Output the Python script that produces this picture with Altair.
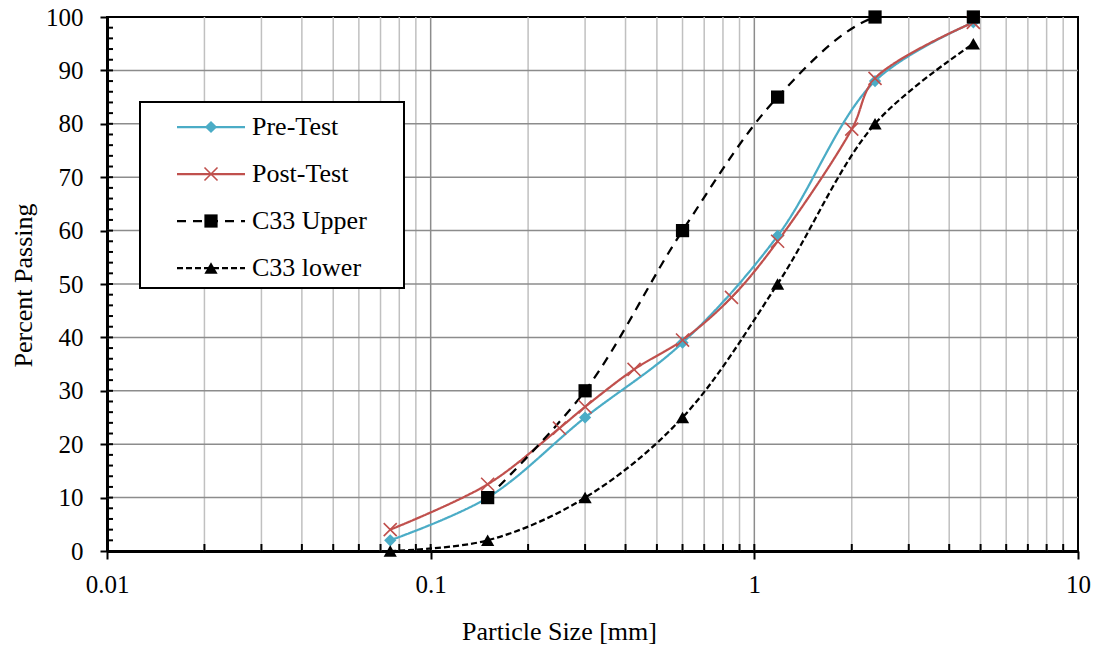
import altair as alt
import pandas as pd

# ---------------- data ----------------
series_names = ["Pre-Test", "Post-Test", "C33 Upper", "C33 lower"]

pre_x = [0.075, 0.15, 0.3, 0.6, 1.18, 2.36, 4.75]
pre_y = [2, 10, 25, 39, 59, 88, 99]

post_x = [0.075, 0.15, 0.25, 0.3, 0.425, 0.6, 0.85, 1.18, 2.0, 2.36, 4.75]
post_y = [4, 12.5, 23, 27, 34, 39.5, 47.5, 58, 79, 88.5, 99]

upper_x = [0.15, 0.3, 0.6, 1.18, 2.36, 4.75]
upper_y = [10, 30, 60, 85, 100, 100]

lower_x = [0.075, 0.15, 0.3, 0.6, 1.18, 2.36, 4.75]
lower_y = [0, 2, 10, 25, 50, 80, 95]

x_tick_labels = [0.01, 0.1, 1, 10]
y_tick_labels = list(range(0, 101, 10))

minor_x = [round(m * 10 ** e, 6) for e in (-2, -1, 0) for m in range(2, 10)]
major_x = [0.1, 1]
grid_y = list(range(10, 100, 10))
inner_tick_x = minor_x + x_tick_labels
inner_tick_y = list(range(0, 101, 2))

# ---------------- style ----------------
FONT = "Liberation Serif"
W, H = 971, 534
colors = {"Pre-Test": "#4BACC6", "Post-Test": "#C0504D",
          "C33 Upper": "#000000", "C33 lower": "#000000"}
dashes = {"Pre-Test": [1, 0], "Post-Test": [1, 0],
          "C33 Upper": [9, 7], "C33 lower": [6, 3]}
X_PATH = "M-1,-1L1,1M-1,1L1,-1"

x_scale = alt.Scale(type="log", domain=[0.01, 10], nice=False)
y_scale = alt.Scale(domain=[0, 100], nice=False, zero=False)

x_axis = alt.Axis(values=x_tick_labels, format="~g", grid=False,
                  domainColor="black", domainWidth=3,
                  tickColor="black", tickWidth=2, tickSize=8,
                  labelFont=FONT, labelFontSize=25, labelColor="black",
                  labelPadding=13, labelFlush=False, labelOverlap=False,
                  title="Particle Size [mm]", titleFont=FONT, titleFontSize=26,
                  titleFontWeight="normal", titleColor="black",
                  titleX=452, titleY=88, titleAlign="center",
                  titleBaseline="alphabetic")
y_axis = alt.Axis(values=y_tick_labels, format="d", grid=False,
                  domainColor="black", domainWidth=3,
                  tickColor="black", tickWidth=2, tickSize=7,
                  labelFont=FONT, labelFontSize=25, labelColor="black",
                  labelPadding=17, labelFlush=False, labelOverlap=False,
                  title="Percent Passing", titleFont=FONT, titleFontSize=26,
                  titleFontWeight="normal", titleColor="black",
                  titleAngle=270, titleX=-76, titleY=268, titleAlign="center",
                  titleBaseline="alphabetic")

X = alt.X("x:Q", scale=x_scale, axis=x_axis)
Y = alt.Y("y:Q", scale=y_scale, axis=y_axis)

# ---------------- grid & inner ticks ----------------
minor_grid = alt.Chart(pd.DataFrame({"x": minor_x})).mark_rule(
    color="#C0C0C0", strokeWidth=1.5).encode(x=X, y=alt.value(0), y2=alt.value(H))
major_grid = alt.Chart(pd.DataFrame({"x": major_x})).mark_rule(
    color="#8C8C8C", strokeWidth=1.5).encode(x=X, y=alt.value(0), y2=alt.value(H))
hgrid = alt.Chart(pd.DataFrame({"y": grid_y})).mark_rule(
    color="#8C8C8C", strokeWidth=1.5).encode(y=Y, x=alt.value(0), x2=alt.value(W))
xin = alt.Chart(pd.DataFrame({"x": inner_tick_x})).mark_rule(
    color="black", strokeWidth=2).encode(x=X, y=alt.value(H), y2=alt.value(H - 7))
yin = alt.Chart(pd.DataFrame({"y": inner_tick_y})).mark_rule(
    color="black", strokeWidth=2).encode(y=Y, x=alt.value(0), x2=alt.value(6))

layers = [minor_grid, major_grid, hgrid, xin, yin]

# ---------------- series ----------------
series_data = {
    "Pre-Test": (pre_x, pre_y),
    "Post-Test": (post_x, post_y),
    "C33 Upper": (upper_x, upper_y),
    "C33 lower": (lower_x, lower_y),
}
marker_specs = {
    "Pre-Test": dict(shape="diamond", filled=True, size=150),
    "Post-Test": dict(shape=X_PATH, filled=False, size=170, strokeWidth=1.6),
    "C33 Upper": dict(shape="square", filled=True, size=175),
    "C33 lower": dict(shape="triangle-up", filled=True, size=175),
}

for name in series_names:
    xs, ys = series_data[name]
    df = pd.DataFrame({"x": xs, "y": ys})
    line = alt.Chart(df).mark_line(color=colors[name], strokeWidth=2.25,
                                   strokeDash=dashes[name], clip=True,
                                   interpolate="catmull-rom").encode(x=X, y=Y)
    layers.append(line)
for name in series_names:
    xs, ys = series_data[name]
    df = pd.DataFrame({"x": xs, "y": ys})
    pts = alt.Chart(df).mark_point(color=colors[name], opacity=1,
                                   **marker_specs[name]).encode(x=X, y=Y)
    layers.append(pts)

# ---------------- legend ----------------
box_df = pd.DataFrame({"n": [0]})
legend_box = alt.Chart(box_df).mark_rect(
    fill="white", stroke="black", strokeWidth=2).encode(
    x=alt.value(33), x2=alt.value(297), y=alt.value(85), y2=alt.value(271))
layers.append(legend_box)

row_y = [110, 157, 204, 251]
for name, ry in zip(series_names, row_y):
    d = pd.DataFrame({"label": [name]})
    lc = alt.Chart(d)
    layers.append(lc.mark_rule(color=colors[name], strokeWidth=2.25,
                               strokeDash=dashes[name]).encode(
        x=alt.value(70), x2=alt.value(138), y=alt.value(ry)))
    layers.append(lc.mark_point(color=colors[name], opacity=1,
                                **marker_specs[name]).encode(
        x=alt.value(104), y=alt.value(ry)))
    layers.append(lc.mark_text(font=FONT, fontSize=26, color="black",
                               align="left", baseline="middle").encode(
        text="label:N", x=alt.value(145), y=alt.value(ry)))

chart = alt.layer(*layers).properties(
    width=W, height=H,
    padding={"left": 107, "top": 17, "right": 19, "bottom": 97},
    autosize=alt.AutoSizeParams(type="none"),
    background="white",
).configure_view(stroke="black", strokeWidth=2)

chart.save("out.html", embed_options={"renderer": "svg", "actions": False})
